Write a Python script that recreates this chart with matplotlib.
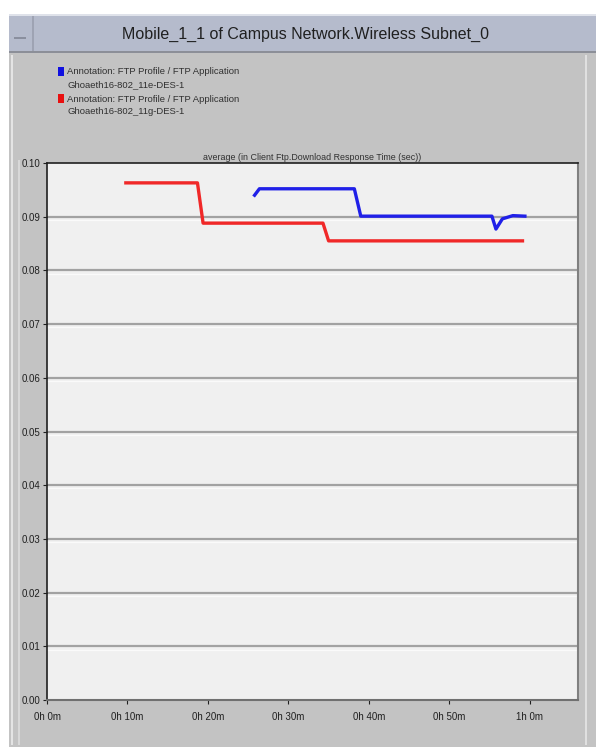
import matplotlib
matplotlib.use('Agg')
import matplotlib.pyplot as plt
from matplotlib.patches import Rectangle

# response time series (minutes, seconds)
red_t = [9.8, 18.7, 19.4, 34.3, 35.0, 59.1]
red_v = [0.0963, 0.0963, 0.0888, 0.0888, 0.0855, 0.0855]
blue_t = [25.8, 26.4, 38.2, 39.0, 55.3, 55.8, 56.6, 57.9, 59.4]
blue_v = [0.0940, 0.0952, 0.0952, 0.0901, 0.0901, 0.0877, 0.0896, 0.0902, 0.0901]

yticks = [0.00, 0.01, 0.02, 0.03, 0.04, 0.05, 0.06, 0.07, 0.08, 0.09, 0.10]
xticks = [0, 10, 20, 30, 40, 50, 60]
xlabels = ['0h 0m', '0h 10m', '0h 20m', '0h 30m', '0h 40m', '0h 50m', '1h 0m']

legend_lines = [
  ('#1010e0', 'Annotation: FTP Profile / FTP Application', 'Ghoaeth16-802_11e-DES-1'),
  ('#e81010', 'Annotation: FTP Profile / FTP Application', 'Ghoaeth16-802_11g-DES-1'),
]

W, H = 596, 747
fam = ['Liberation Sans', 'DejaVu Sans']

fig = plt.figure(figsize=(W / 100, H / 100), dpi=100)
fig.patch.set_facecolor('white')

def px(x, y, w, h):
  return (x / W, 1 - (y + h) / H, w / W, h / H)

def rect(x, y, w, h, **kw):
  r = Rectangle(px(x, y, w, h)[:2], w / W, h / H, transform=fig.transFigure, zorder=-1, **kw)
  fig.patches.append(r)

# window frame
rect(9, 52, 587, 695, facecolor='#c3c3c3', edgecolor='none')
rect(9, 14, 587, 38, facecolor='#b5bbcc', edgecolor='none')
rect(9, 14, 587, 2, facecolor='#dfe2ea', edgecolor='none')
rect(9, 51, 587, 2, facecolor='#8c8f98', edgecolor='none')
rect(32, 16, 1.5, 35, facecolor='#9ea3b3', edgecolor='none')
rect(14, 37, 12, 2, facecolor='#8a8f9e', edgecolor='none')
rect(11, 55, 1.5, 690, facecolor='#e4e4e4', edgecolor='none')
rect(18, 160, 1.5, 585, facecolor='#d8d8d8', edgecolor='none')
rect(585, 55, 1.5, 690, facecolor='#e0e0e0', edgecolor='none')

fig.text(305 / W, 1 - 34 / H, 'Mobile_1_1 of Campus Network.Wireless Subnet_0',
         ha='center', va='center', fontsize=11.5, color='#202020', family=fam)

# legend
for i, (c, l1, l2) in enumerate(legend_lines):
  y0 = 67 + i * 27
  rect(58, y0, 6, 9, facecolor=c, edgecolor='none')
  fig.text(67 / W, 1 - (y0 + 5) / H, l1, ha='left', va='center', fontsize=6.8, color='#303030', family=fam)
  fig.text(68 / W, 1 - (y0 + 18) / H, l2, ha='left', va='center', fontsize=6.8, color='#303030', family=fam)

ax = fig.add_axes(px(47, 163, 531, 537))
ax.set_facecolor('#f0f0f0')

for v in yticks[1:-1]:
  ax.axhline(v, color='#a2a2a2', lw=1.6, zorder=1)
  ax.axhline(v - 0.0006, color='#fafafa', lw=1.0, zorder=1)

ax.plot(red_t, red_v, color='#f02828', lw=2.4, solid_joinstyle='round', zorder=3)
ax.plot(blue_t, blue_v, color='#2020e8', lw=2.4, solid_joinstyle='round', zorder=3)

ax.set_xlim(0, 66)
ax.set_ylim(0, 0.10)
ax.set_yticks(yticks)
ax.set_yticklabels(['{:.2f}'.format(v) for v in yticks])
ax.set_xticks(xticks)
ax.set_xticklabels(xlabels)
ax.tick_params(axis='both', labelsize=7, colors='#202020', length=3, width=0.8, pad=2)
ax.tick_params(axis='x', pad=6)
for lab in ax.get_xticklabels() + ax.get_yticklabels():
  lab.set_family(fam)

for side in ['left', 'top']:
  ax.spines[side].set_color('#202020')
  ax.spines[side].set_linewidth(1.2)
ax.spines['bottom'].set_color('#707070')
ax.spines['bottom'].set_linewidth(1.5)
ax.spines['right'].set_color('#808080')
ax.spines['right'].set_linewidth(1.5)

ax.set_title('average (in Client Ftp.Download Response Time (sec))', fontsize=6.4,
             color='#303030', pad=2, family=fam)

fig.savefig('out.png', dpi=100, facecolor=fig.get_facecolor())
